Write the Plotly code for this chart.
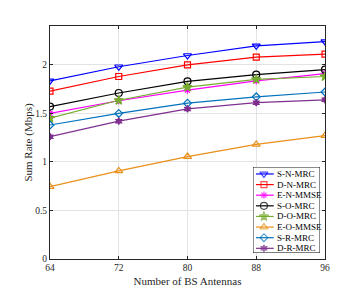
import plotly.graph_objects as go

antennas = [64, 72, 80, 88, 96]
series_names = ["S-N-MRC", "D-N-MRC", "E-N-MMSE", "S-O-MRC", "D-O-MRC", "E-O-MMSE", "S-R-MRC", "D-R-MRC"]
s_n_mrc = [1.835, 1.98, 2.096, 2.196, 2.24]
d_n_mrc = [1.73, 1.88, 2.0, 2.08, 2.11]
e_n_mmse = [1.50, 1.63, 1.74, 1.835, 1.91]
s_o_mrc = [1.57, 1.71, 1.83, 1.90, 1.95]
d_o_mrc = [1.45, 1.635, 1.77, 1.85, 1.88]
e_o_mmse = [0.745, 0.907, 1.055, 1.18, 1.27]
s_r_mrc = [1.38, 1.50, 1.605, 1.67, 1.72]
d_r_mrc = [1.26, 1.42, 1.546, 1.61, 1.64]
x_ticks = [64, 72, 80, 88, 96]
y_ticks = [0, 0.5, 1, 1.5, 2]
y_tick_labels = ["0", "0.5", "1", "1.5", "2"]

values = [s_n_mrc, d_n_mrc, e_n_mmse, s_o_mrc, d_o_mrc, e_o_mmse, s_r_mrc, d_r_mrc]
colors = ["#0000FF", "#FF0000", "#FF00FF", "#000000", "#77AC30", "#E8901A", "#0072BD", "#7E2F8E"]
symbols = ["triangle-down-open", "square-open", "asterisk-open", "circle-open",
           "star", "triangle-up-open", "diamond-open", "hexagram"]
sizes = [7, 6, 6, 7, 7, 7, 6, 5]

FONT = "Liberation Serif, Times New Roman, serif"

fig = go.Figure()
for name, vals, c, s, sz in zip(series_names, values, colors, symbols, sizes):
    fig.add_trace(go.Scatter(
        x=antennas, y=vals, name=name, mode="lines+markers",
        line=dict(color=c, width=1.2),
        marker=dict(symbol=s, size=sz, color=c, line=dict(color=c, width=1.2)),
        showlegend=False, xaxis="x", yaxis="y"))

# custom compact legend (MATLAB-like) drawn on an auxiliary axis pair
n = len(series_names)
for i, (name, c, s, sz) in enumerate(zip(series_names, colors, symbols, sizes)):
    yv = n - i
    fig.add_trace(go.Scatter(
        x=[0.045, 0.164, 0.31], y=[yv, yv, yv], mode="lines+markers",
        line=dict(color=c, width=1.2),
        marker=dict(symbol=s, size=[0, sz, 0], color=c, line=dict(color=c, width=1.2)),
        showlegend=False, hoverinfo="skip", xaxis="x2", yaxis="y2"))
    fig.add_annotation(x=0.33, y=yv, xref="x2", yref="y2", text=name,
                       showarrow=False, xanchor="left", yanchor="middle",
                       font=dict(family=FONT, size=9, color="#000000"))

fig.add_shape(type="rect", xref="x2", yref="y2", x0=0, x1=1, y0=0.56, y1=8.66,
              line=dict(color="#000000", width=1), fillcolor="white", layer="between")

axis_common = dict(showline=True, linecolor="#262626", linewidth=1, mirror="ticks",
                   ticks="inside", ticklen=3, tickcolor="#262626", automargin=False,
                   showgrid=True, gridcolor="#E3E3E3", gridwidth=1, zeroline=False,
                   tickfont=dict(family=FONT, size=9.5, color="#262626"))

fig.update_layout(
    width=354, height=287,
    margin=dict(l=50, r=29, t=26, b=28),
    paper_bgcolor="white", plot_bgcolor="white",
    xaxis=dict(range=[64, 96], tickvals=x_ticks, domain=[0, 1],
               title=dict(text="Number of BS Antennas", standoff=6,
                          font=dict(family=FONT, size=11, color="#262626")),
               **axis_common),
    yaxis=dict(range=[0, 2.4], tickvals=y_ticks, ticktext=y_tick_labels, domain=[0, 1],
               title=dict(text="Sum Rate (Mbps)", standoff=0,
                          font=dict(family=FONT, size=11, color="#262626")),
               **axis_common),
    xaxis2=dict(domain=[0.738, 0.982], range=[0, 1], showgrid=False, zeroline=False,
                showline=False, showticklabels=False, ticks="", anchor="y2",
                fixedrange=True, automargin=False),
    yaxis2=dict(domain=[0.0258, 0.395], range=[0.56, 8.66], showgrid=False, zeroline=False,
                showline=False, showticklabels=False, ticks="", anchor="x2",
                fixedrange=True, automargin=False),
    showlegend=False,
)

fig.write_html("out.html", config={"displayModeBar": False},
               post_script="document.body.style.margin='0';document.body.style.overflow='hidden';")
